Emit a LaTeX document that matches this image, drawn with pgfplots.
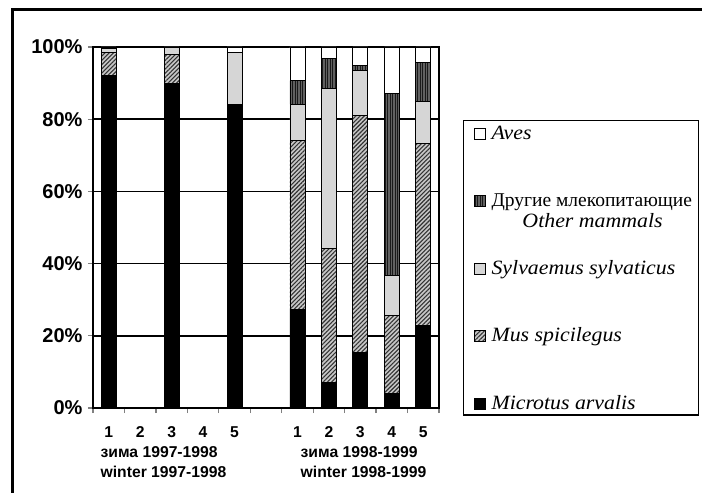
\documentclass[border=0pt]{standalone}
\usepackage{fontspec}
\setmainfont{Liberation Serif}
\newfontfamily\lsans{Liberation Sans}
\usepackage{pgfplots}
\pgfplotsset{compat=1.18}
\usetikzlibrary{patterns,patterns.meta}
\newcommand\ylab{\lsans\bfseries\fontsize{20}{22}\selectfont}
\newcommand\xlab{\lsans\bfseries\fontsize{15.7}{17}\selectfont}
\newcommand\legfont{\fontsize{19.5}{23.4}\selectfont}
\newcommand\ent[2][4pt]{\raisebox{0pt}[14pt][#1]{#2}}
\newcommand\lat[1]{\scalebox{1.12}[1.04]{\textit{#1}}}
\begin{document}
\begin{tikzpicture}[x=1pt,y=1pt]
\path[use as bounding box] (0,0) rectangle (702,493);
\draw[line width=3pt] (12,0) -- (12,483) -- (703,483);
\begin{axis}[
  at={(93pt,85pt)}, anchor=south west, scale only axis,
  width=346pt, height=361pt,
  xmin=-0.5, xmax=10.5, ymin=0, ymax=100,
  ybar stacked, bar width=15pt,
  axis line style={line width=1.7pt},
  ymajorgrids, grid style={black, line width=1.7pt},
  ytick={0,20,40,60,80,100},
  yticklabels={0\%,20\%,40\%,60\%,80\%,100\%},
  xtick={-0.5,0.5,...,10.5},
  xticklabels={},
  extra x ticks={0,1,2,3,4,6,7,8,9,10},
  extra x tick labels={1,2,3,4,5,1,2,3,4,5},
  extra x tick style={major tick length=0pt},
  tick align=outside, xtick pos=bottom, ytick pos=left,
  major tick length=5pt,
  tick style={line width=1.3pt},
  yticklabel style={font=\ylab, xshift=-2pt},
  xticklabel style={font=\xlab, anchor=base, yshift=-29pt},
  clip=false,
  reverse legend,
  legend style={at={(1.0694,0.7978)}, anchor=north west, draw=black,
    line width=1.3pt, inner xsep=5pt, inner ysep=4.5pt, row sep=52pt,
    cells={anchor=base west}, nodes={inner sep=0pt, font=\legfont}},
  legend image code/.code={\path (0pt,0pt); \draw[#1, line width=1.1pt] (5pt,0pt) rectangle (16pt,11pt); \path (22pt,0pt);},
]
\addplot[fill=black, draw=black, line width=0.9pt]
  coordinates {(0,92.2) (2,90) (4,84) (6,27.3) (7,7.1) (8,15.5) (9,3.9) (10,22.9)};
\addlegendentry{\ent[50.5pt]{\lat{Microtus arvalis}}}
\addplot[fill=black!22, draw=black, line width=0.9pt, postaction={pattern={Lines[angle=45,distance=3pt,line width=1.1pt]}, pattern color=black!80}]
  coordinates {(0,6.4) (2,7.8) (4,0) (6,46.7) (7,37.1) (8,65.4) (9,21.8) (10,50.4)};
\addlegendentry{\ent{\lat{Mus spicilegus}}}
\addplot[fill=black!16, draw=black, line width=0.9pt]
  coordinates {(0,1.1) (2,2.2) (4,14.4) (6,10.2) (7,44.4) (8,12.5) (9,10.9) (10,11.6)};
\addlegendentry{\ent{\lat{Sylvaemus sylvaticus}}}
\addplot[fill=black!62, draw=black, line width=0.9pt, postaction={pattern={Lines[angle=90,distance=2.5pt,line width=0.6pt]}, pattern color=black!90}]
  coordinates {(0,0) (2,0) (4,0) (6,6.5) (7,8.3) (8,1.5) (9,50.6) (10,10.8)};
\addlegendentry{\ent{\begin{tabular}[t]{@{}c@{}}\makebox[202pt][l]{Другие млекопитающие}\\[-2.5pt]\lat{Other mammals}\end{tabular}}}
\addplot[fill=white, draw=black, line width=0.9pt]
  coordinates {(0,0.3) (2,0) (4,1.6) (6,9.3) (7,3.1) (8,5.1) (9,12.8) (10,4.3)};
\addlegendentry{\ent{\lat{Aves}}}
\node[anchor=base west, font=\xlab, yshift=-49.5pt] at (axis cs:-0.37,0) {зима 1997-1998};
\node[anchor=base west, font=\xlab, yshift=-69.5pt] at (axis cs:-0.37,0) {winter 1997-1998};
\node[anchor=base west, font=\xlab, yshift=-49.5pt] at (axis cs:5.99,0) {зима 1998-1999};
\node[anchor=base west, font=\xlab, yshift=-69.5pt] at (axis cs:5.99,0) {winter 1998-1999};
\end{axis}
\end{tikzpicture}
\end{document}
